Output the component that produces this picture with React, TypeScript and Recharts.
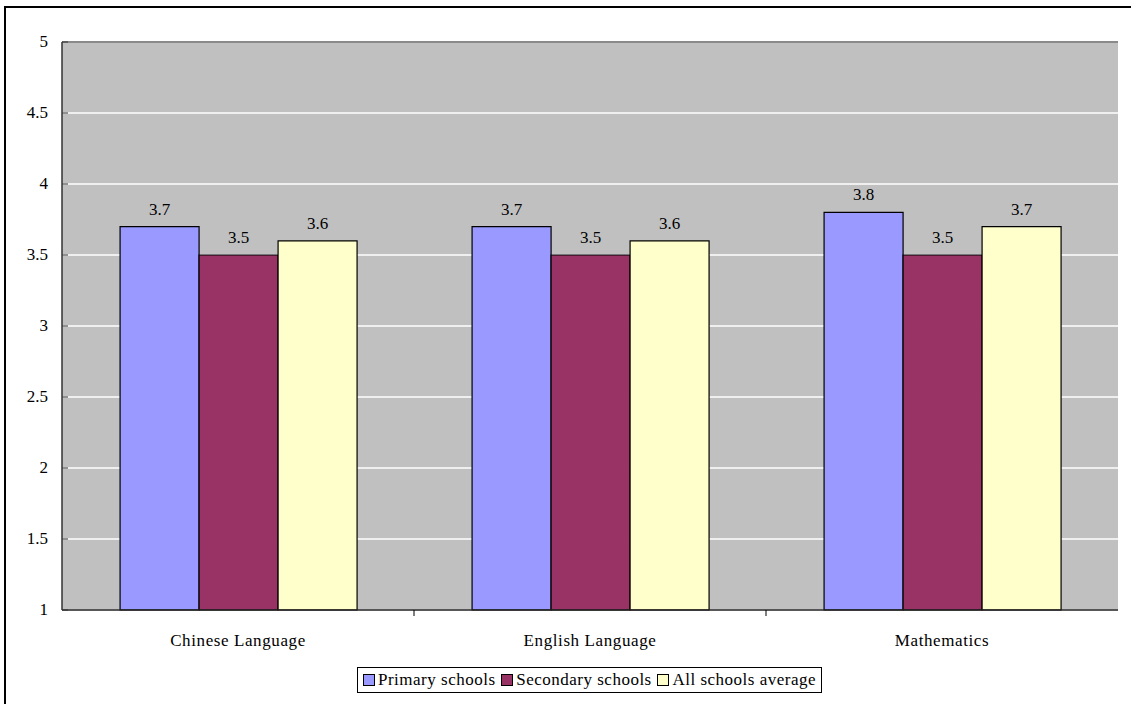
import React from 'react';
import { Bar, BarChart, CartesianGrid, LabelList, ReferenceLine, XAxis, YAxis } from 'recharts';

const subjects = ['Chinese Language', 'English Language', 'Mathematics'];
const primarySchools = [3.7, 3.7, 3.8];
const secondarySchools = [3.5, 3.5, 3.5];
const allSchoolsAverage = [3.6, 3.6, 3.7];
const yTicks = [1, 1.5, 2, 2.5, 3, 3.5, 4, 4.5, 5];

const series = [
  { key: 'primary', name: 'Primary schools', color: '#9999FF' },
  { key: 'secondary', name: 'Secondary schools', color: '#993366' },
  { key: 'all', name: 'All schools average', color: '#FFFFCC' },
];

const data = subjects.map((subject, i) => ({
  subject,
  primary: primarySchools[i],
  secondary: secondarySchools[i],
  all: allSchoolsAverage[i],
}));

const FONT = "'Liberation Serif', 'DejaVu Serif', serif";

function YTick(props: any) {
  const { x, y, payload } = props;
  return (
    <g>
      <line x1={x + 8} x2={x + 14} y1={y} y2={y} stroke="#333" strokeWidth={1} />
      <text x={x - 6} y={y} dy={5} textAnchor="end" fontSize={17} fill="#000" style={{ fontFamily: FONT }}>
        {payload.value}
      </text>
    </g>
  );
}

function XTick(props: any) {
  const { x, y, payload, index } = props;
  const off = payload.offset ?? 0;
  return (
    <g>
      {index < subjects.length - 1 && (
        <line x1={x + off} x2={x + off} y1={y - 8} y2={y - 2} stroke="#000" strokeWidth={1} />
      )}
      <text
        x={x}
        y={y}
        dy={28}
        textAnchor="middle"
        fontSize={17}
        letterSpacing={0.6}
        fill="#000"
        style={{ fontFamily: FONT }}
      >
        {payload.value}
      </text>
    </g>
  );
}

export default function App() {
  return (
    <div style={{ position: 'absolute', left: 0, top: 0, width: 1131, height: 704, overflow: 'hidden', background: '#fff' }}>
      <div
        style={{
          position: 'absolute',
          left: 4,
          top: 6,
          width: 1140,
          height: 720,
          borderLeft: '2px solid #000',
          borderTop: '2px solid #000',
        }}
      />
      <div style={{ position: 'absolute', left: 0, top: 0 }}>
        <BarChart
          width={1131}
          height={704}
          data={data}
          margin={{ top: 42, right: 13, left: 0, bottom: 54 }}
          barCategoryGap="16.5%"
          barGap={0}
        >
          <CartesianGrid fill="#C0C0C0" stroke="#FFFFFF" strokeWidth={1.5} vertical={false} />
          <XAxis
            dataKey="subject"
            height={40}
            axisLine={{ stroke: '#222', strokeWidth: 1.5 }}
            tickLine={false}
            tick={<XTick />}
            interval={0}
          />
          <YAxis
            domain={[1, 5]}
            ticks={yTicks}
            width={62}
            axisLine={{ stroke: '#333', strokeWidth: 1.5 }}
            tickLine={false}
            tick={<YTick />}
            interval={0}
          />
          <YAxis
            yAxisId="right"
            orientation="right"
            domain={[1, 5]}
            width={0}
            tick={false}
            tickLine={false}
            axisLine={{ stroke: '#8A8A8A', strokeWidth: 2 }}
          />
          <ReferenceLine y={5} stroke="#8A8A8A" strokeWidth={2} />
          {series.map((s) => (
            <Bar
              key={s.key}
              dataKey={s.key}
              name={s.name}
              fill={s.color}
              stroke="#000"
              strokeWidth={1.2}
              isAnimationActive={false}
            >
              <LabelList
                dataKey={s.key}
                position="top"
                offset={12}
                fontSize={17}
                fill="#000"
                style={{ fontFamily: FONT }}
              />
            </Bar>
          ))}
        </BarChart>
      </div>
      <div
        style={{
          position: 'absolute',
          left: 357,
          top: 667,
          width: 465,
          height: 26,
          border: '1px solid #000',
          display: 'flex',
          alignItems: 'center',
          justifyContent: 'space-between',
          padding: '0 5px',
          boxSizing: 'border-box',
          fontFamily: FONT,
          fontSize: 17,
          letterSpacing: 0.5,
          background: '#fff',
        }}
      >
        {series.map((s) => (
          <span key={s.key} style={{ display: 'flex', alignItems: 'center', gap: 3 }}>
            <span style={{ width: 10, height: 10, background: s.color, border: '1.5px solid #000' }} />
            {s.name}
          </span>
        ))}
      </div>
    </div>
  );
}
